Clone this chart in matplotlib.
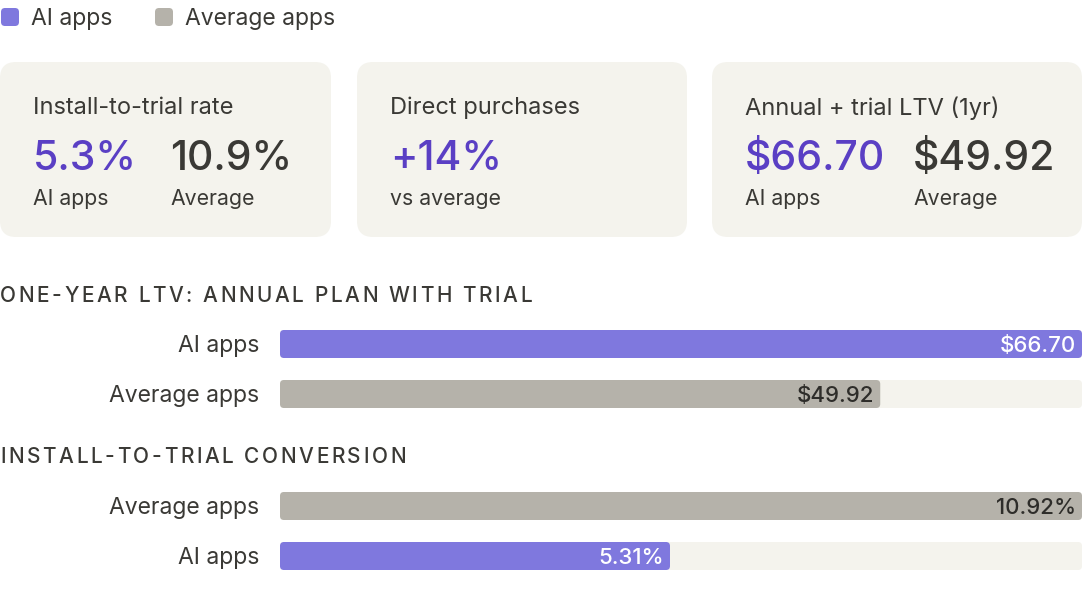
import matplotlib.pyplot as plt
from matplotlib.patches import FancyBboxPatch

plt.rcParams['font.family'] = ['Inter', 'DejaVu Sans']

# data
legend_labels = ["AI apps", "Average apps"]
ltv_labels = ["AI apps", "Average apps"]
ltv_values = [66.70, 49.92]
conv_labels = ["Average apps", "AI apps"]
conv_values = [10.92, 5.31]
direct_purchase_lift = 14

PURPLE = '#7f78de'
GRAY = '#b5b2aa'
TRACK = '#f4f3ed'
DARK_PURPLE = '#5a3fc4'
TEXT = '#3a3935'

W, H = 1082, 590
fig = plt.figure(figsize=(W / 100, H / 100), dpi=100)
fig.patch.set_facecolor('white')
renderer = fig.canvas.get_renderer()

# background axes in pixel coordinates for cards, legend, titles
bg = fig.add_axes([0, 0, 1, 1])
bg.set_xlim(0, W)
bg.set_ylim(H, 0)
bg.axis('off')


def text_width(s, **kw):
    t = bg.text(0, 0, s, **kw)
    w = t.get_window_extent(renderer).width
    t.remove()
    return w


def spaced_text(x, y, s, spacing, **kw):
    # matplotlib has no letter-spacing, so place characters one by one
    bar_w = text_width("|", **kw)
    for i, ch in enumerate(s):
        off = text_width(s[:i] + "|", **kw) - bar_w if i else 0
        bg.text(x + off + i * spacing, y, ch, ha='left', va='center', **kw)


# legend
for x0, lab, col in [(0, legend_labels[0], PURPLE), (154, legend_labels[1], GRAY)]:
    bg.add_patch(FancyBboxPatch((x0 + 1, 8), 18, 18, boxstyle="round,pad=0,rounding_size=4",
                                fc=col, ec='none'))
    bg.text(x0 + 31, 19, lab, fontsize=16.5, color=TEXT, va='center', ha='left')

# cards
cards = [
    (0, 331, "Install-to-trial rate",
     [(f"{conv_values[1]:.1f}%", "AI apps", DARK_PURPLE), (f"{conv_values[0]:.1f}%", "Average", TEXT)]),
    (357, 687, "Direct purchases",
     [(f"+{direct_purchase_lift}%", "vs average", DARK_PURPLE)]),
    (712, 1082, "Annual + trial LTV (1yr)",
     [(f"${ltv_values[0]:.2f}", "AI apps", DARK_PURPLE), (f"${ltv_values[1]:.2f}", "Average", TEXT)]),
]
second_x = {0: 170, 2: 913}
for i, (x0, x1, title, vals) in enumerate(cards):
    bg.add_patch(FancyBboxPatch((x0, 62), x1 - x0, 175, boxstyle="round,pad=0,rounding_size=16",
                                fc=TRACK, ec='none'))
    bg.text(x0 + 33, 108, title, fontsize=17, color=TEXT, va='center', ha='left')
    for j, (big, small, col) in enumerate(vals):
        tx = x0 + 33 if j == 0 else second_x[i]
        bg.text(tx, 159, big, fontsize=29.5, color=col, va='center', ha='left', fontweight='medium')
        bg.text(tx, 199, small, fontsize=15.3, color=TEXT, va='center', ha='left')

# section titles
title_kw = dict(fontsize=15, color=TEXT, fontweight='medium')
spaced_text(0, 296, "ONE-YEAR LTV: ANNUAL PLAN WITH TRIAL", 2.6, **title_kw)
spaced_text(0, 457, "INSTALL-TO-TRIAL CONVERSION", 2.6, **title_kw)


def bar_section(top_px, labels, values, colors, fmt):
    left, width = 280, 802
    ax = fig.add_axes([left / W, 1 - (top_px + 100) / H, width / W, 100 / H])
    xmax = max(values)
    ax.set_xlim(0, xmax)
    ax.set_ylim(1.5, -0.5)
    ax.axis('off')
    px_x = width / xmax
    px_y = 50
    r = 4
    h = 0.56
    for k, (lab, v, c) in enumerate(zip(labels, values, colors)):
        for w_, fc in [(xmax, TRACK), (v, c)]:
            ax.add_patch(FancyBboxPatch((0, k - h / 2), w_, h,
                                        boxstyle=f"round,pad=0,rounding_size={r / px_x}",
                                        mutation_aspect=px_x / px_y, fc=fc, ec='none'))
        txt_col = 'white' if c == PURPLE else '#2e2d2a'
        ax.text(v - 6 / px_x, k + 2 / px_y, fmt.format(v), fontsize=16, color=txt_col,
                ha='right', va='center', fontweight='medium')
        bg.text(259, top_px + 27 + 50 * k, lab, fontsize=16.5, color=TEXT, ha='right', va='center')
    return ax


bar_section(319, ltv_labels, ltv_values, [PURPLE, GRAY], "${:.2f}")
bar_section(481, conv_labels, conv_values, [GRAY, PURPLE], "{:.2f}%")

fig.savefig('out.png', dpi=100, facecolor='white')
